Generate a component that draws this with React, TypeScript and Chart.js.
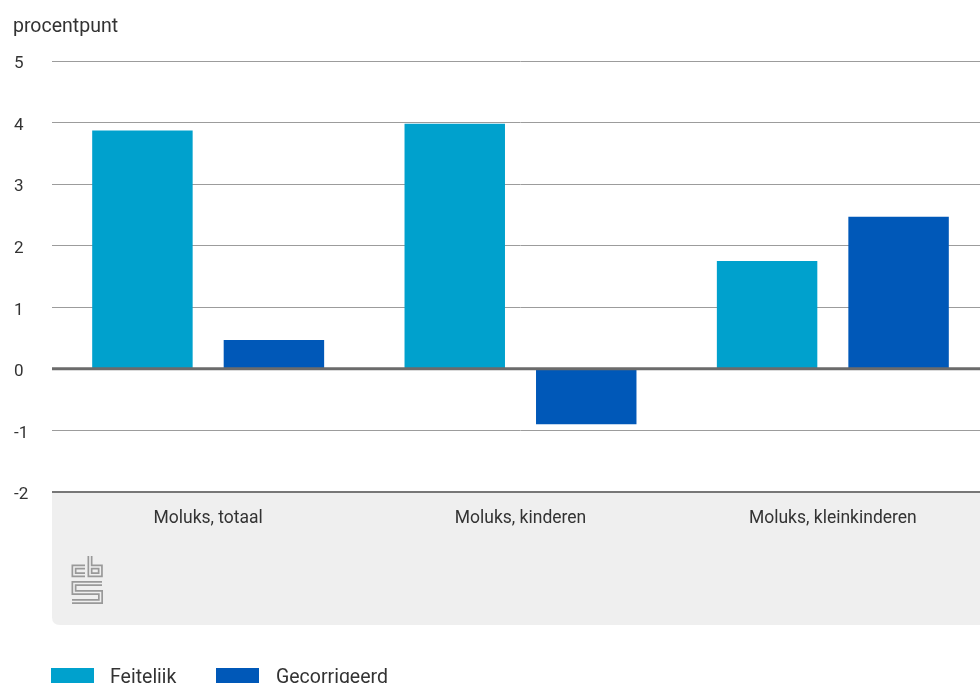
import React, { useEffect, useRef } from "react";
import { Chart, registerables } from "chart.js";

Chart.register(...registerables);

const categories = ["Moluks, totaal", "Moluks, kinderen", "Moluks, kleinkinderen"];
const seriesNames = ["Feitelijk", "Gecorrigeerd"];
const feitelijk = [3.87, 3.98, 1.75];
const gecorrigeerd = [0.47, -0.9, 2.47];
const yMin = -2;
const yMax = 5;
const yStep = 1;
const axisTitle = "procentpunt";
const seriesColors = ["#00A1CD", "#0058B8"];

const FONT = "Roboto";
const TEXT = "#333333";

const decorPlugin = {
  id: "decor",
  beforeDraw(chart: any) {
    const { ctx, chartArea, scales } = chart;
    const xs = scales.x;
    ctx.save();
    // grey band under the axis
    const left = chartArea.left;
    const top = xs.top;
    const right = chart.width + 10;
    const bottom = xs.bottom;
    const r = 8;
    ctx.fillStyle = "#efefef";
    ctx.beginPath();
    ctx.moveTo(left, top);
    ctx.lineTo(right, top);
    ctx.lineTo(right, bottom);
    ctx.lineTo(left + r, bottom);
    ctx.quadraticCurveTo(left, bottom, left, bottom - r);
    ctx.closePath();
    ctx.fill();

    // axis title
    ctx.fillStyle = TEXT;
    ctx.font = `19.5px ${FONT}`;
    ctx.textAlign = "left";
    ctx.textBaseline = "alphabetic";
    ctx.fillText(axisTitle, 13, 32);

    // logo
    const ox = 72;
    const oy = 556;
    const paths: number[][][] = [
      [[13, 11], [2, 11], [2, 18.7], [13, 18.7]],
      [[18, 0], [18, 18.7], [28.3, 18.7], [28.3, 11], [18, 11]],
      [[30, 27.5], [2, 27.5], [2, 36.5], [28.5, 36.5], [28.5, 45.5], [0, 45.5]],
    ];
    const strokePaths = (w: number, c: string) => {
      ctx.lineWidth = w;
      ctx.strokeStyle = c;
      ctx.lineJoin = "miter";
      ctx.lineCap = "butt";
      for (const p of paths) {
        ctx.beginPath();
        p.forEach(([px, py], i) => {
          if (i === 0) ctx.moveTo(ox + px, oy + py);
          else ctx.lineTo(ox + px, oy + py);
        });
        ctx.stroke();
      }
    };
    strokePaths(5, "#999999");
    strokePaths(1.6, "#efefef");
    ctx.restore();
  },
  afterDatasetsDraw(chart: any) {
    const { ctx, chartArea, scales } = chart;
    const y0 = scales.y.getPixelForValue(0);
    ctx.save();
    ctx.strokeStyle = "#6b6b6b";
    ctx.lineWidth = 3;
    ctx.beginPath();
    ctx.moveTo(chartArea.left, y0);
    ctx.lineTo(chartArea.right, y0);
    ctx.stroke();
    ctx.restore();
  },
  afterDraw(chart: any) {
    const { ctx } = chart;
    ctx.save();
    ctx.font = `19.5px ${FONT}`;
    ctx.textAlign = "left";
    ctx.textBaseline = "alphabetic";
    const boxes = [
      { bx: 51, tx: 110 },
      { bx: 216, tx: 276 },
    ];
    seriesNames.forEach((name, i) => {
      ctx.fillStyle = seriesColors[i];
      ctx.fillRect(boxes[i].bx, 668, 43, 16);
      ctx.fillStyle = TEXT;
      ctx.fillText(name, boxes[i].tx, 683);
    });
    ctx.restore();
  },
};

export default function App() {
  const ref = useRef<HTMLCanvasElement | null>(null);

  useEffect(() => {
    document.body.style.margin = "0";
    if (!ref.current) return;
    const chart = new Chart(ref.current, {
      type: "bar",
      data: {
        labels: categories,
        datasets: [
          {
            label: seriesNames[0],
            data: feitelijk,
            backgroundColor: seriesColors[0],
            borderWidth: 0,
            categoryPercentage: 0.842,
            barPercentage: 0.764,
          },
          {
            label: seriesNames[1],
            data: gecorrigeerd,
            backgroundColor: seriesColors[1],
            borderWidth: 0,
            categoryPercentage: 0.842,
            barPercentage: 0.764,
          },
        ],
      },
      options: {
        responsive: false,
        animation: false,
        devicePixelRatio: 1,
        layout: { padding: { left: 14, right: 1, top: 61, bottom: 58 } },
        plugins: {
          legend: { display: false },
          tooltip: { enabled: false },
          title: { display: false },
        },
        scales: {
          x: {
            grid: { display: false, drawTicks: false },
            border: { display: false },
            ticks: {
              color: TEXT,
              font: { family: FONT, size: 17.5 },
              padding: 16,
              maxRotation: 0,
            },
            afterFit(scale: any) {
              scale.height = 133;
            },
          },
          y: {
            min: yMin,
            max: yMax,
            grid: {
              drawTicks: false,
              color: (c: any) => (c.tick && c.tick.value === yMin ? "#777777" : "#9c9c9c"),
              lineWidth: (c: any) => (c.tick && c.tick.value === yMin ? 2 : 1),
            },
            border: { display: false },
            ticks: {
              stepSize: yStep,
              color: TEXT,
              font: { family: FONT, size: 17 },
              crossAlign: "far",
              labelOffset: 3,
              padding: 0,
            },
            afterFit(scale: any) {
              scale.width = 38;
            },
          },
        },
      },
      plugins: [decorPlugin],
    } as any);
    return () => chart.destroy();
  }, []);

  return (
    <div style={{ position: "fixed", left: 0, top: 0, width: 980, height: 683, overflow: "hidden" }}>
      <canvas ref={ref} width={990} height={683} style={{ display: "block" }} />
    </div>
  );
}
